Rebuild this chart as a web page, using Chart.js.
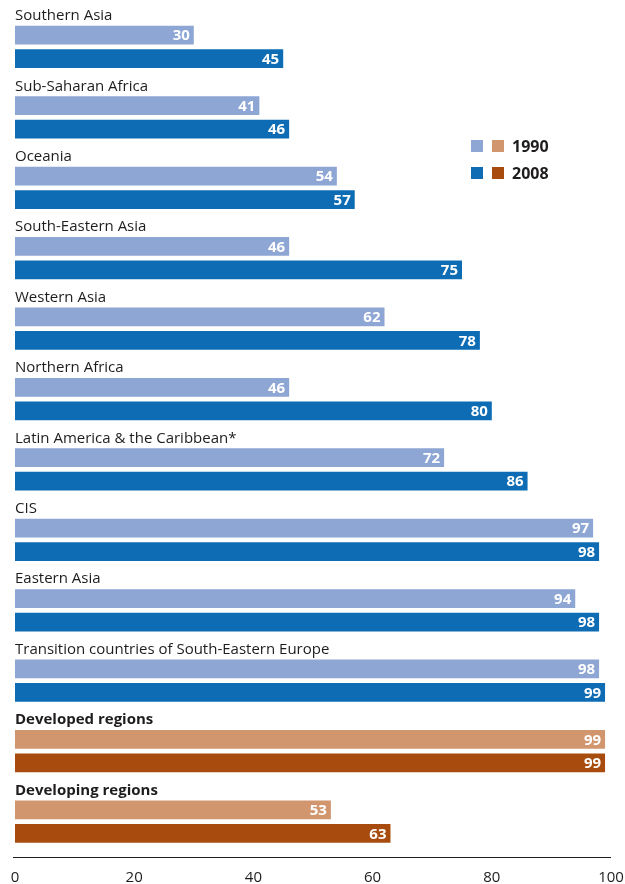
<!DOCTYPE html>
<html>
<head>
<meta charset="utf-8">
<script src="https://cdn.jsdelivr.net/npm/chart.js@4.4.0/dist/chart.umd.min.js"></script>
<style>
  html, body { margin: 0; padding: 0; background: #fff; }
  #wrap { position: relative; width: 625px; height: 884px; }
</style>
</head>
<body>
<div id="wrap"><canvas id="chart"></canvas></div>
<script>
const categories = [
  "Southern Asia",
  "Sub-Saharan Africa",
  "Oceania",
  "South-Eastern Asia",
  "Western Asia",
  "Northern Africa",
  "Latin America & the Caribbean*",
  "CIS",
  "Eastern Asia",
  "Transition countries of South-Eastern Europe",
  "Developed regions",
  "Developing regions"
];
const values1990 = [30, 41, 54, 46, 62, 46, 72, 97, 94, 98, 99, 53];
const values2008 = [45, 46, 57, 75, 78, 80, 86, 98, 98, 99, 99, 63];
const boldRows = ["Developed regions", "Developing regions"];
const xTicks = [0, 20, 40, 60, 80, 100];
const years = ["1990", "2008"];

const blue1990 = "#8da6d4";
const blue2008 = "#0e6cb5";
const tan1990 = "#d2966f";
const brown2008 = "#a84b0e";
const textColor = "#1f1c1d";

const colors1990 = categories.map(c => boldRows.includes(c) ? tan1990 : blue1990);
const colors2008 = categories.map(c => boldRows.includes(c) ? brown2008 : blue2008);

// labels above each pair, values inside bar ends, custom legend, axis line
const decorations = {
  id: "decorations",
  afterDatasetsDraw(chart) {
    const ctx = chart.ctx;
    const xs = chart.scales.x;
    const m1 = chart.getDatasetMeta(1);
    const m2 = chart.getDatasetMeta(2);
    ctx.save();

    // category labels
    ctx.textAlign = "left";
    ctx.textBaseline = "middle";
    ctx.fillStyle = textColor;
    categories.forEach((c, i) => {
      const bar = m1.data[i];
      const top = bar.y - bar.height / 2;
      ctx.font = (boldRows.includes(c) ? "bold " : "") + "15px 'Open Sans'";
      ctx.fillText(c, xs.left, top - 10);
    });

    // value labels
    ctx.font = "bold 15px 'Open Sans'";
    ctx.fillStyle = "#fff";
    ctx.textAlign = "right";
    [[m1, values1990], [m2, values2008]].forEach(([meta, vals]) => {
      meta.data.forEach((bar, i) => {
        ctx.fillText(String(vals[i]), bar.x - 4, bar.y + 1);
      });
    });

    // axis line
    ctx.strokeStyle = textColor;
    ctx.lineWidth = 1;
    ctx.beginPath();
    ctx.moveTo(xs.left - 2, chart.chartArea.bottom + 12.5);
    ctx.lineTo(xs.right, chart.chartArea.bottom + 12.5);
    ctx.stroke();

    // legend with two swatches per year
    const lx = 471, ly = 140, sw = 12, gap = 27;
    [[blue1990, tan1990], [blue2008, brown2008]].forEach((pair, r) => {
      const y = ly + r * gap;
      ctx.fillStyle = pair[0];
      ctx.fillRect(lx, y, sw, sw);
      ctx.fillStyle = pair[1];
      ctx.fillRect(lx + 21, y, sw, sw);
      ctx.fillStyle = textColor;
      ctx.textAlign = "left";
      ctx.font = "bold 16px 'Open Sans'";
      ctx.fillText(years[r], lx + 41, y + 7);
    });
    ctx.restore();
  }
};

new Chart(document.getElementById("chart").getContext("2d"), {
  type: "bar",
  data: {
    labels: categories,
    datasets: [
      { label: "", data: categories.map(() => null), backgroundColor: "transparent" },
      { label: years[0], data: values1990, backgroundColor: colors1990 },
      { label: years[1], data: values2008, backgroundColor: colors2008 }
    ]
  },
  options: {
    indexAxis: "y",
    responsive: true,
    maintainAspectRatio: false,
    animation: false,
    layout: { padding: { top: -3, left: 15, right: 14, bottom: 0 } },
    datasets: {
      bar: { categoryPercentage: 1.0, barPercentage: 0.8 }
    },
    plugins: {
      legend: { display: false },
      tooltip: { enabled: false }
    },
    scales: {
      y: {
        display: false
      },
      x: {
        min: 0,
        max: 100,
        afterBuildTicks: axis => { axis.ticks = xTicks.map(v => ({ value: v })); },
        afterFit: axis => {
          axis.height = 39;
          axis.paddingLeft = 0;
          axis.paddingRight = 0;
        },
        border: { display: false },
        grid: { display: false, drawTicks: false },
        ticks: {
          color: textColor,
          padding: 24,
          maxRotation: 0,
          font: { family: "'Open Sans'", size: 15 }
        }
      }
    }
  },
  plugins: [decorations]
});
</script>
</body>
</html>
